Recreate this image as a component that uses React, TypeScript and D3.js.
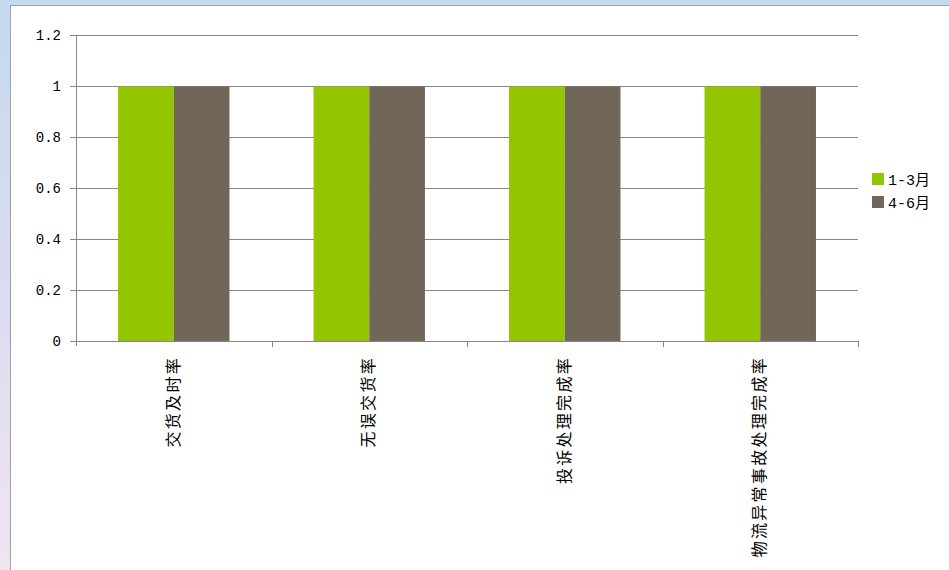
import React from "react";
import * as d3 from "d3";

const categories = ["交货及时率", "无误交货率", "投诉处理完成率", "物流异常事故处理完成率"];
const seriesNames = ["1-3月", "4-6月"];
const series1 = [1, 1, 1, 1];
const series2 = [1, 1, 1, 1];
const yTicks = [0, 0.2, 0.4, 0.6, 0.8, 1, 1.2];
const yTickLabels = ["0", "0.2", "0.4", "0.6", "0.8", "1", "1.2"];
const colors = ["#94c600", "#716759"];

export default function App() {
  const W = 949, H = 570;
  const left = 76, right = 858, top = 35, bottom = 341;
  const x = d3.scaleBand<string>().domain(categories).range([left, right]).paddingInner(0).paddingOuter(0);
  const y = d3.scaleLinear().domain([0, 1.2]).range([bottom, top]);
  const groupW = x.bandwidth() * 0.57;
  const x1 = d3.scaleBand<string>().domain(seriesNames).range([0, groupW]);
  const data = [series1, series2];
  const gridColor = "#868686";

  return (
    <div style={{ position: "fixed", left: 0, top: 0, width: W, height: H }}>
      <svg width={W} height={H} style={{ display: "block" }}>
        <defs>
          <linearGradient id="bg" x1="0" y1="0" x2="0" y2="1">
            <stop offset="0" stopColor="#c4d9ef" />
            <stop offset="0.55" stopColor="#dcdcf0" />
            <stop offset="1" stopColor="#f1e4f3" />
          </linearGradient>
        </defs>
        <rect x={0} y={0} width={W} height={H} fill="url(#bg)" />
        <rect x={0} y={0} width={W} height={6} fill="#c6daef" />
        <rect x={10.5} y={5.5} width={W} height={H} fill="#ffffff" stroke="#a0a0a0" strokeWidth={1} />
        {/* gridlines and y ticks */}
        {yTicks.map((t, i) => (
          <g key={i}>
            <line x1={left - 6} x2={t === 0 ? left : right} y1={Math.round(y(t)) + 0.5} y2={Math.round(y(t)) + 0.5} stroke={gridColor} strokeWidth={1} />
            <text x={61} y={Math.round(y(t)) + 5} textAnchor="end" fontFamily="'Liberation Mono', 'DejaVu Sans Mono', monospace" fontSize={14} fill="#000">
              {yTickLabels[i]}
            </text>
          </g>
        ))}
        {/* bars */}
        {categories.map((c, ci) => (
          <g key={c} transform={`translate(${(x(c) as number) + (x.bandwidth() - groupW) / 2},0)`}>
            {seriesNames.map((s, si) => (
              <rect key={s} x={x1(s)} y={y(data[si][ci]) + 0.5} width={x1.bandwidth()} height={bottom - y(data[si][ci])} fill={colors[si]} />
            ))}
          </g>
        ))}
        {/* axes */}
        <line x1={left + 0.5} x2={left + 0.5} y1={top} y2={bottom + 5} stroke={gridColor} />
        <line x1={left} x2={right} y1={bottom + 0.5} y2={bottom + 0.5} stroke={gridColor} />
        {categories.map((c, i) => (
          <line key={"t" + i} x1={Math.round((x(c) as number) + x.bandwidth()) + 0.5} x2={Math.round((x(c) as number) + x.bandwidth()) + 0.5} y1={bottom} y2={bottom + 6} stroke={gridColor} />
        ))}
        {/* category labels */}
        {categories.map((c) => {
          const cx = (x(c) as number) + x.bandwidth() / 2;
          return (
            <text key={"l" + c} transform={`translate(${cx + 5},${356}) rotate(-90)`} textAnchor="end" fontFamily="'Noto Sans CJK SC', sans-serif" fontSize={16} letterSpacing={2.3} fill="#000">
              {c}
            </text>
          );
        })}
        {/* legend */}
        {seriesNames.map((s, i) => (
          <g key={"lg" + s} transform={`translate(872,${173 + i * 23})`}>
            <rect x={0} y={0} width={12} height={12} fill={colors[i]} />
            <text x={16} y={12} fontFamily="'Liberation Mono', 'Noto Sans CJK SC', sans-serif" fontSize={15} fill="#000">{s}</text>
          </g>
        ))}
      </svg>
    </div>
  );
}
